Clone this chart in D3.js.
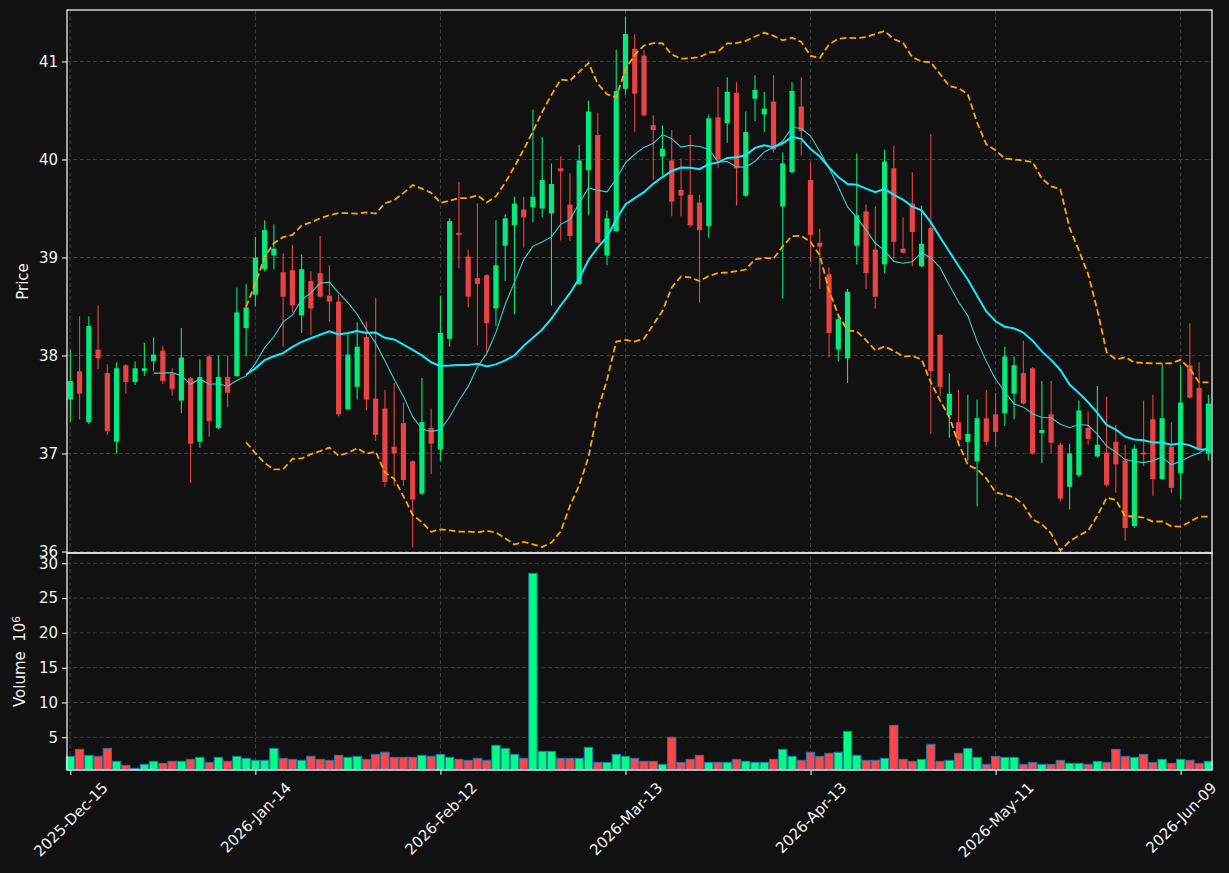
<!DOCTYPE html>
<html>
<head>
<meta charset="utf-8">
<script src="https://cdn.jsdelivr.net/npm/d3@7"></script>
<style>
    body { margin: 0; background: #111111; }
    svg text { font-family: "DejaVu Sans", sans-serif; fill: #f2f2f2; }
</style>
</head>
<body>
<svg id="chart" width="1229" height="873"></svg>
<script>
// x axis: candles are indexed by trading day, ticks every 20 sessions
const tickIndex = [0, 20, 40, 60, 80, 100, 120];
const tickLabels = ["2025-Dec-15", "2026-Jan-14", "2026-Feb-12", "2026-Mar-13",
    "2026-Apr-13", "2026-May-11", "2026-Jun-09"];
const priceTicks = [36, 37, 38, 39, 40, 41];
const volumeTicks = [5, 10, 15, 20, 25, 30];

const open = [37.55, 37.84, 37.32, 38.06, 37.82, 37.12, 37.90, 37.73, 37.84, 37.94,
    38.05, 37.81, 37.54, 37.77, 37.12, 37.99, 37.26, 37.78, 37.79, 38.28,
    38.62, 38.88, 39.02, 38.85, 38.87, 38.41, 38.76, 38.84, 38.61, 38.55,
    37.45, 37.68, 38.19, 37.56, 37.46, 37.07, 37.31, 36.92, 36.59, 37.26,
    37.04, 38.17, 39.25, 39.01, 38.79, 38.82, 38.48, 39.12, 39.33, 39.49,
    39.51, 39.50, 39.45, 39.91, 39.54, 38.73, 39.89, 40.25, 39.02, 39.27,
    40.72, 41.13, 41.06, 40.35, 40.03, 39.99, 39.69, 39.64, 39.56, 39.32,
    40.43, 40.37, 40.68, 39.63, 40.62, 40.46, 40.59, 39.52, 39.87, 40.54,
    39.79, 39.15, 38.83, 38.06, 37.97, 39.12, 39.47, 39.08, 38.93, 39.91,
    39.09, 39.55, 38.91, 39.30, 38.21, 37.39, 37.32, 37.12, 36.92, 37.36,
    37.40, 37.41, 37.61, 37.82, 37.87, 37.21, 37.40, 37.09, 36.66, 36.78,
    37.26, 36.97, 37.01, 37.12, 36.93, 36.26, 37.01, 37.35, 36.74, 37.07,
    36.80, 37.90, 37.67, 37.00];
const high = [38.06, 38.40, 38.40, 38.51, 37.91, 37.93, 37.91, 37.94, 38.13, 38.18,
    38.10, 37.87, 38.28, 37.78, 37.96, 38.01, 38.00, 38.00, 38.69, 38.73,
    39.21, 39.38, 39.34, 39.04, 39.13, 39.03, 38.86, 39.22, 38.92, 38.62,
    38.23, 38.34, 38.35, 38.59, 37.65, 37.72, 37.52, 36.93, 37.77, 37.46,
    38.61, 39.40, 39.77, 39.08, 39.55, 38.83, 39.38, 39.44, 39.62, 39.62,
    40.51, 40.23, 39.96, 40.03, 39.86, 40.15, 40.60, 40.48, 39.48, 41.12,
    41.46, 41.28, 41.12, 40.45, 40.35, 40.30, 40.01, 40.25, 39.64, 40.46,
    40.74, 40.84, 40.79, 40.49, 40.86, 40.69, 40.86, 40.07, 40.79, 40.84,
    39.97, 39.29, 38.90, 38.40, 38.68, 40.06, 39.54, 39.52, 40.10, 40.14,
    39.41, 39.87, 39.53, 40.26, 38.22, 37.82, 37.65, 37.60, 37.55, 37.65,
    37.62, 38.09, 37.99, 38.15, 37.88, 37.74, 37.74, 37.11, 37.10, 37.54,
    37.43, 37.69, 37.58, 37.29, 37.09, 37.09, 37.54, 37.60, 37.92, 37.32,
    37.90, 38.33, 37.93, 37.60];
const low = [37.32, 37.35, 37.30, 37.86, 37.19, 37.00, 37.61, 37.70, 37.79, 37.84,
    37.71, 37.59, 37.41, 36.70, 37.06, 37.17, 37.25, 37.47, 37.78, 37.99,
    38.50, 38.86, 38.88, 38.09, 38.44, 38.23, 38.21, 38.59, 38.35, 37.38,
    37.44, 37.55, 37.44, 37.13, 36.66, 36.67, 36.67, 36.04, 36.58, 36.79,
    36.92, 38.09, 38.89, 38.49, 38.11, 38.03, 38.30, 38.76, 38.42, 39.10,
    39.36, 39.41, 38.51, 39.17, 39.17, 38.72, 39.43, 39.15, 38.92, 39.26,
    40.66, 40.28, 40.44, 39.79, 39.84, 39.42, 39.42, 39.31, 38.54, 39.20,
    39.91, 40.17, 39.53, 39.62, 40.39, 40.28, 40.07, 38.58, 39.86, 40.04,
    38.95, 38.68, 37.98, 37.94, 37.72, 38.93, 38.68, 38.48, 38.84, 38.99,
    39.04, 38.91, 38.90, 37.20, 37.59, 37.16, 37.09, 36.93, 36.46, 37.09,
    37.07, 37.28, 37.35, 37.50, 36.99, 36.90, 37.00, 36.51, 36.43, 36.76,
    37.09, 36.96, 36.66, 36.60, 36.11, 36.24, 36.87, 36.57, 36.73, 36.60,
    36.53, 37.56, 37.05, 36.93];
const close = [37.74, 37.61, 38.30, 37.97, 37.23, 37.87, 37.73, 37.87, 37.87, 38.01,
    37.74, 37.66, 37.98, 37.10, 37.78, 37.33, 37.78, 37.62, 38.44, 38.49,
    39.00, 39.28, 39.09, 38.60, 38.51, 38.88, 38.48, 38.60, 38.55, 37.40,
    38.01, 38.09, 37.55, 37.19, 36.71, 37.00, 36.73, 36.53, 37.32, 37.10,
    38.23, 39.37, 39.23, 38.60, 38.73, 38.33, 38.92, 39.40, 39.55, 39.41,
    39.62, 39.79, 39.75, 39.88, 39.22, 39.99, 40.49, 39.15, 39.40, 40.70,
    41.28, 40.67, 40.45, 40.30, 40.11, 39.57, 39.63, 39.33, 39.28, 40.42,
    40.00, 40.69, 39.91, 40.28, 40.71, 40.52, 40.10, 39.96, 40.70, 40.29,
    39.23, 39.11, 38.23, 38.37, 38.65, 39.43, 38.84, 38.60, 39.98, 39.16,
    39.05, 39.26, 39.14, 37.84, 37.68, 37.61, 37.14, 37.20, 37.36, 37.12,
    37.22, 37.99, 37.90, 37.51, 37.00, 37.24, 37.11, 36.54, 37.00, 37.44,
    37.15, 37.09, 36.68, 36.89, 36.24, 37.05, 36.99, 36.74, 37.36, 36.65,
    37.52, 37.57, 37.05, 37.51];
// volume in millions of shares
const volume = [2.27, 3.27, 2.41, 2.27, 3.41, 1.55, 0.97, 0.54, 1.12, 1.55,
    1.26, 1.55, 1.55, 1.83, 2.12, 1.40, 2.12, 1.55, 2.27, 1.98,
    1.69, 1.69, 3.41, 1.98, 1.83, 1.69, 2.27, 1.83, 1.69, 2.41,
    2.12, 2.27, 1.83, 2.55, 2.84, 2.12, 2.12, 2.12, 2.41, 2.27,
    2.55, 2.12, 1.83, 1.69, 1.98, 1.69, 3.85, 3.41, 2.55, 1.98,
    28.56, 2.98, 2.98, 1.98, 1.98, 1.98, 3.56, 1.40, 1.40, 2.55,
    2.27, 1.98, 1.55, 1.55, 1.12, 5.00, 1.40, 1.83, 2.41, 1.40,
    1.40, 1.40, 1.83, 1.55, 1.40, 1.40, 1.83, 3.27, 2.27, 1.69,
    2.84, 2.27, 2.70, 2.84, 5.86, 2.41, 1.69, 1.69, 1.98, 6.72,
    1.83, 1.55, 1.83, 3.99, 1.55, 1.69, 2.70, 3.41, 2.12, 1.12,
    2.27, 2.12, 2.12, 1.12, 1.40, 1.12, 1.12, 1.69, 1.26, 1.26,
    1.12, 1.55, 1.40, 3.27, 2.27, 2.12, 2.55, 1.40, 1.83, 1.26,
    1.83, 1.69, 1.26, 1.55];

const shortWindow = 10;
const longWindow = 20;
const bandWidth = 2;

function rolling(arr, n, fn) {
    return arr.map((_, i) => i < n - 1 ? null : fn(arr.slice(i - n + 1, i + 1)));
}
const maShort = rolling(close, shortWindow, a => d3.mean(a));
const maLong = rolling(close, longWindow, a => d3.mean(a));
const sdLong = rolling(close, longWindow, a => {
    const m = d3.mean(a);
    return Math.sqrt(d3.mean(a, v => (v - m) * (v - m)));
});
const upperBand = maLong.map((m, i) => m == null ? null : m + bandWidth * sdLong[i]);
const lowerBand = maLong.map((m, i) => m == null ? null : m - bandWidth * sdLong[i]);

const plot = { left: 67, right: 1212, top: 10, split: 553, bottom: 770 };
const upColor = "#03e97b", downColor = "#ea4343";
const volUp = "#00ff80", volDown = "#ff4747";
const gridColor = "#3e3e3e";
const fontSize = "15px";

const svg = d3.select("#chart");
svg.append("rect").attr("width", 1229).attr("height", 873).attr("fill", "#111111");

const x = d3.scaleLinear().domain([-0.36, 123.39]).range([plot.left, plot.right]);
const yPrice = d3.scaleLinear().domain([35.985, 41.525]).range([plot.split, plot.top]);
const yVol = d3.scaleLinear().domain([0.30, 31.48]).range([plot.bottom, plot.split]);
const step = x(1) - x(0);

svg.append("defs").append("clipPath").attr("id", "clipPrice")
    .append("rect")
    .attr("x", plot.left).attr("y", plot.top)
    .attr("width", plot.right - plot.left).attr("height", plot.split - plot.top);

// grid
const grid = svg.append("g")
    .attr("stroke", gridColor)
    .attr("stroke-width", 1)
    .attr("stroke-dasharray", "4,2.5");
grid.selectAll(".gx").data(tickIndex).enter().append("line")
    .attr("x1", d => x(d)).attr("x2", d => x(d))
    .attr("y1", plot.top).attr("y2", plot.bottom);
grid.selectAll(".gp").data(priceTicks).enter().append("line")
    .attr("x1", plot.left).attr("x2", plot.right)
    .attr("y1", d => yPrice(d)).attr("y2", d => yPrice(d));
grid.selectAll(".gv").data(volumeTicks).enter().append("line")
    .attr("x1", plot.left).attr("x2", plot.right)
    .attr("y1", d => yVol(d)).attr("y2", d => yVol(d));

// candles
const candles = svg.append("g").attr("clip-path", "url(#clipPrice)");
const idx = d3.range(close.length);
candles.selectAll(".wick").data(idx).enter().append("line")
    .attr("x1", i => x(i)).attr("x2", i => x(i))
    .attr("y1", i => yPrice(high[i])).attr("y2", i => yPrice(low[i]))
    .attr("stroke", i => close[i] >= open[i] ? upColor : downColor)
    .attr("stroke-width", 1.1);
const bodyW = step * 0.56;
candles.selectAll(".body").data(idx).enter().append("rect")
    .attr("x", i => x(i) - bodyW / 2)
    .attr("y", i => yPrice(Math.max(open[i], close[i])))
    .attr("width", bodyW)
    .attr("height", i => Math.max(1.2, Math.abs(yPrice(open[i]) - yPrice(close[i]))))
    .attr("fill", i => close[i] >= open[i] ? upColor : downColor);

// moving averages and bands
const line = d3.line()
    .defined(d => d != null)
    .x((d, i) => x(i))
    .y(d => yPrice(d));
candles.append("path").datum(maShort).attr("d", line)
    .attr("fill", "none").attr("stroke", "#3ccfcf").attr("stroke-width", 1.1);
candles.append("path").datum(maLong).attr("d", line)
    .attr("fill", "none").attr("stroke", "#14eaff").attr("stroke-width", 2);
[upperBand, lowerBand].forEach(b => {
    candles.append("path").datum(b).attr("d", line)
        .attr("fill", "none").attr("stroke", "#ffa500")
        .attr("stroke-width", 1.8).attr("stroke-dasharray", "6.5,3.2");
});

// volume
const volW = step * 0.9;
svg.append("g").selectAll("rect").data(idx).enter().append("rect")
    .attr("x", i => x(i) - volW / 2)
    .attr("y", i => yVol(volume[i]))
    .attr("width", volW)
    .attr("height", i => plot.bottom - yVol(volume[i]))
    .attr("fill", i => close[i] >= open[i] ? volUp : volDown)
    .attr("stroke", "#1f77b4")
    .attr("stroke-width", 1);

// axes
function styleAxis(g) {
    g.select(".domain").remove();
    g.selectAll(".tick line").attr("stroke", "#ffffff").attr("stroke-width", 1);
    g.selectAll(".tick text").style("font-size", fontSize).attr("fill", "#f2f2f2");
}
svg.append("g")
    .attr("transform", "translate(" + plot.left + ",0)")
    .call(d3.axisLeft(yPrice).tickValues(priceTicks).tickFormat(d3.format("d"))
        .tickSize(5).tickPadding(4))
    .call(styleAxis);
svg.append("g")
    .attr("transform", "translate(" + plot.left + ",0)")
    .call(d3.axisLeft(yVol).tickValues(volumeTicks).tickFormat(d3.format("d"))
        .tickSize(5).tickPadding(4))
    .call(styleAxis);

const xAxis = svg.append("g")
    .attr("transform", "translate(0," + plot.bottom + ")")
    .call(d3.axisBottom(x).tickValues(tickIndex).tickFormat((d, i) => tickLabels[i]).tickSize(5))
    .call(styleAxis);
xAxis.selectAll(".tick text").each(function () {
    const t = d3.select(this);
    const len = this.getComputedTextLength();
    const cy = 9 + (len + 17) * Math.SQRT1_2 / 2;
    t.attr("y", 0).attr("dy", "0.35em")
        .style("text-anchor", "middle")
        .attr("transform", "translate(0," + cy + ") rotate(-45)");
});

// frames
[[plot.top, plot.split], [plot.split, plot.bottom]].forEach(([t, b]) => {
    svg.append("rect")
        .attr("x", plot.left).attr("y", t)
        .attr("width", plot.right - plot.left).attr("height", b - t)
        .attr("fill", "none").attr("stroke", "#ffffff").attr("stroke-width", 1.2);
});

// axis titles
svg.append("text")
    .attr("transform", "translate(27.5," + (plot.top + plot.split) / 2 + ") rotate(-90)")
    .style("text-anchor", "middle").style("font-size", fontSize)
    .text("Price");
const vLabel = svg.append("text")
    .attr("transform", "translate(25," + (plot.split + plot.bottom) / 2 + ") rotate(-90)")
    .style("text-anchor", "middle").style("font-size", fontSize);
vLabel.append("tspan").text("Volume\u00a0\u00a010");
vLabel.append("tspan").attr("dy", "-0.45em").style("font-size", "10.5px").text("6");
</script>
</body>
</html>
